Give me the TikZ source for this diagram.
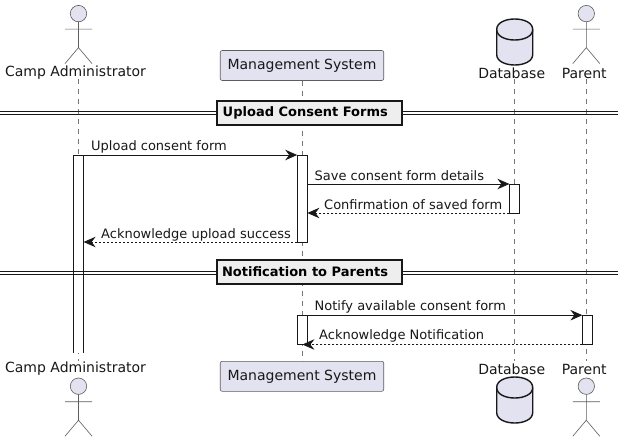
\documentclass[tikz,border=0pt]{standalone}
\usepackage{fontspec}
\setmainfont{DejaVu Sans}
\usetikzlibrary{arrows.meta}
\definecolor{partfill}{HTML}{E2E2F0}
\definecolor{ink}{HTML}{181818}
\definecolor{lifegray}{HTML}{777777}
\definecolor{divfill}{HTML}{EEEEEE}
\tikzset{
  x=1pt,y=-1pt,
  txt/.style={font=\fontsize{14}{16}\selectfont,text=ink,inner sep=0pt,anchor=center},
  msgtxt/.style={font=\fontsize{13}{15}\selectfont,text=ink,inner sep=0pt,anchor=base west},
  lifeline/.style={draw=lifegray,line width=0.6pt,dash pattern=on 5pt off 5pt},
  bar/.style={draw=ink,fill=white,line width=0.8pt,minimum width=10.2pt,inner sep=0pt,anchor=north,outer sep=0pt},
  msg/.style={draw=ink,line width=0.8pt,-{Stealth[length=12pt,width=10.5pt,inset=4pt]}},
  reply/.style={msg,dash pattern=on 2pt off 2pt},
  participantbox/.style={draw=ink!70,fill=partfill,line width=0.6pt,rounded corners=2pt,minimum width=163.5pt,minimum height=30pt,inner sep=0pt,font=\fontsize{14}{16}\selectfont,text=ink},
  dividerbox/.style={draw=ink,fill=divfill,line width=2pt,minimum width=185.5pt,minimum height=23.5pt,inner sep=0pt,font=\fontsize{13}{15}\selectfont\bfseries,text=black},
  dividerline/.style={draw=ink,line width=1pt},
  actorline/.style={draw=ink!70,line width=0.6pt},
  dbshape/.style={draw=ink,fill=partfill,line width=1.4pt},
  pics/stick/.style={code={
    \draw[actorline,fill=partfill] (0,0) circle[radius=8.2];
    \draw[actorline] (0,8.2) -- (0,34) (-13.5,15.5) -- (13.5,15.5) (-13.5,50) -- (0,34) -- (13.5,50);
  }},
  pics/dbcyl/.style={code={
    \draw[dbshape] (-18,10.5) .. controls (-18,-3.5) and (18,-3.5) .. (18,10.5) -- (18,35.5) .. controls (18,49.5) and (-18,49.5) .. (-18,35.5) -- cycle;
    \draw[dbshape,fill=none] (-18,10.5) .. controls (-18,24.5) and (18,24.5) .. (18,10.5);
  }}
}
\begin{document}
\begin{tikzpicture}
\useasboundingbox[fill=white] (0,0) rectangle (624,442);

% life line ends
\coordinate (caT) at (78.5,79);  \coordinate (caB) at (78.5,361);
\coordinate (msT) at (301.8,80.5);\coordinate (msB) at (301.8,361.3);
\coordinate (dbT) at (514.5,79); \coordinate (dbB) at (514.5,361);
\coordinate (paT) at (586.5,79); \coordinate (paB) at (586.5,361);
\draw[lifeline] (caT) -- (caB);
\draw[lifeline] (msT) -- (msB);
\draw[lifeline] (dbT) -- (dbB);
\draw[lifeline] (paT) -- (paB);

% divider rules
\coordinate (d1L) at (0,111.7);   \coordinate (d1R) at (618,111.7);
\coordinate (d1l) at (0,114.4);   \coordinate (d1r) at (618,114.4);
\coordinate (d2L) at (0,271.6);   \coordinate (d2R) at (618,271.6);
\coordinate (d2l) at (0,274.3);   \coordinate (d2r) at (618,274.3);

% activation bars
\node[bar,draw=none,minimum height=197.5pt] (caBar) at (78.5,155) {};
\draw[draw=ink,line width=0.8pt] (caBar.north west) -- (caBar.south west) (caBar.north east) -- (caBar.south east) (caBar.north west) -- (caBar.north east);
\node[bar,minimum height=87pt] (msBarA) at (302.3,155) {};
\node[bar,minimum height=29pt] (dbBar) at (514.5,184) {};
\node[bar,minimum height=29.3pt] (msBarB) at (302.3,315.2) {};
\node[bar,minimum height=29.3pt] (paBar) at (587.5,315.2) {};

% dividers
\draw[dividerline] (d1L) -- (d1R) (d1l) -- (d1r);
\draw[dividerline] (d2L) -- (d2R) (d2l) -- (d2r);
\node[dividerbox] (divA) at (309.3,112.8) {Upload Consent Forms\hspace*{8pt}};
\node[dividerbox] (divB) at (309.3,272.1) {Notification to Parents\hspace*{8.5pt}};

% actors and participants, top
\pic at (78.5,13.6) {stick};
\node[txt] (caTop) at (75.5,73) {Camp Administrator};
\node[participantbox] (msTop) at (302,65.5) {Management System};
\pic at (514.7,19) {dbcyl};
\node[txt] (dbTop) at (511.7,73) {Database};
\pic at (586.3,13.6) {stick};
\node[txt] (paTop) at (584.2,73) {Parent};

% actors and participants, bottom
\node[txt] (caBot) at (75.5,369) {Camp Administrator};
\pic at (78.5,386.2) {stick};
\node[participantbox] (msBot) at (302,376.3) {Management System};
\node[txt] (dbBot) at (511.7,369) {Database};
\pic at (514.7,377) {dbcyl};
\node[txt] (paBot) at (584.2,369) {Parent};
\pic at (586.3,386.2) {stick};

% messages
\draw[msg] (caBar.north east) -- (msBarA.north west);
\node[msgtxt] (m1) at (91,150.3) {Upload consent form};
\draw[msg] (msBarA.east |- dbBar.north) -- (dbBar.north west);
\node[msgtxt] (m2) at (314.5,180) {Save consent form details};
\draw[reply] (dbBar.south west) -- (msBarA.east |- dbBar.south);
\node[msgtxt] (m3) at (324,209) {Confirmation of saved form};
\draw[reply] (msBarA.south west) -- (caBar.east |- msBarA.south);
\node[msgtxt] (m4) at (101,238) {Acknowledge upload success};
\draw[msg] (msBarB.north east) -- (paBar.north west);
\node[msgtxt] (m5) at (314.5,310) {Notify available consent form};
\draw[reply] (paBar.south west) -- ([xshift=-5pt]msBarB.south east);
\node[msgtxt] (m6) at (319,339) {Acknowledge Notification};
\end{tikzpicture}
\end{document}
